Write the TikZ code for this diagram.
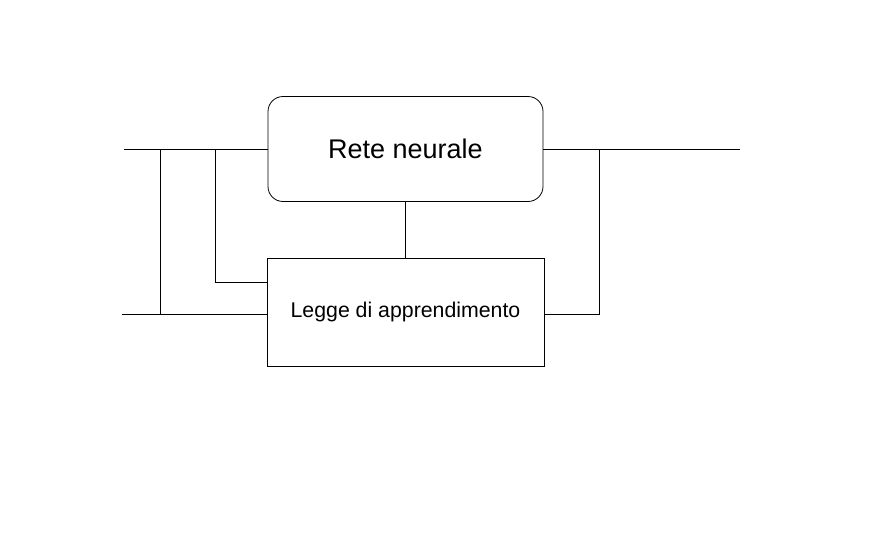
\documentclass[tikz,border=0pt]{standalone}
\usepackage{fontspec}
\setmainfont{Liberation Sans}
\usetikzlibrary{positioning,calc}

\begin{document}
\begin{tikzpicture}[x=1pt,y=-1pt,line width=0.8pt,
		blocco/.style={draw, inner sep=0pt, align=center},
		retebox/.style={blocco, rounded corners=15pt, minimum width=275pt, minimum height=105pt, font=\fontsize{27}{32}\selectfont},
		leggebox/.style={blocco, minimum width=277pt, minimum height=108pt, font=\fontsize{21.3}{25}\selectfont}]
				\useasboundingbox (0,0) rectangle (888,533);
				\node[retebox] (rete) at (405.5,149) {Rete neurale};
				\node[leggebox] (legge) at (405.5,312) {\raisebox{3pt}{Legge di apprendimento}};
				\coordinate (inA) at (124,149);
				\coordinate (inB) at (122,314);
				\coordinate (outA) at (740,149);
				\coordinate (tapA) at (160,149);
				\coordinate (tapB) at (215,149);
				\coordinate (tapC) at (599,149);
				\draw (inA) -- (rete.west);
				\draw (inB) -- (legge.west |- inB);
				\draw (tapA) -- (tapA |- inB);
				\draw (tapB) |- (legge.west |- 0,282);
				\draw (rete.east) -- (outA);
				\draw (legge.east |- inB) -| (tapC);
				\draw (rete.south) -- (legge.north);
			\end{tikzpicture}
\end{document}
